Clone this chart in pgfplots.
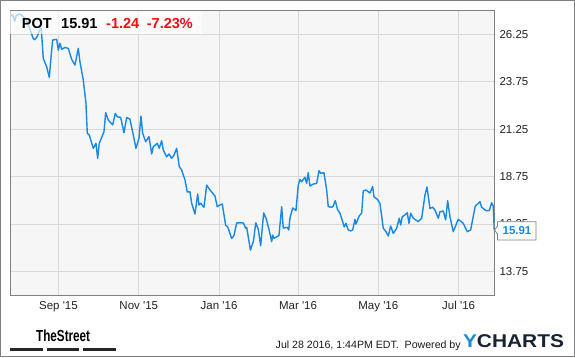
\documentclass[border=0pt]{standalone}
\usepackage{fontspec}
\setmainfont{Liberation Sans}
\usepackage{graphicx}
\usepackage{pgfplots}
\pgfplotsset{compat=1.18}
\definecolor{linec}{RGB}{22,136,230}
\definecolor{bgc}{RGB}{246,246,246}
\definecolor{gridc}{RGB}{216,216,216}
\definecolor{framec}{RGB}{128,128,128}
\definecolor{redc}{RGB}{238,16,16}
\definecolor{tickc}{RGB}{34,34,34}
\definecolor{ylogo}{RGB}{26,138,216}
\definecolor{navy}{RGB}{24,36,52}
\begin{document}
\begin{tikzpicture}
\path[use as bounding box] (0pt,0pt) rectangle (575pt,358pt);
\begin{axis}[
  at={(10.3pt,63pt)}, anchor=south west,
  width=484pt, height=284.7pt, scale only axis,
  xmin=-36.6, xmax=331.1, ymin=12.5, ymax=27.52,
  axis background/.style={fill=bgc},
  axis line style={draw=framec, line width=0.9pt},
  grid=major, major grid style={draw=gridc, line width=0.8pt},
  major tick length=0pt,
  xtick={0,61,122,182,243,304},
  xticklabels={Sep \textquotesingle15, Nov \textquotesingle15, Jan \textquotesingle16, Mar \textquotesingle16, May \textquotesingle16, Jul \textquotesingle16},
  ytick={13.75,16.25,18.75,21.25,23.75,26.25},
  yticklabels={13.75,16.25,18.75,21.25,23.75,26.25},
  yticklabel pos=right,
  tick label style={font=\fontsize{11.5}{13}\selectfont, text=tickc, inner sep=0pt},
  xticklabel style={anchor=base, yshift=-15pt},
  yticklabel style={anchor=west, xshift=5pt},
]
\addplot[linec, line width=1.4pt, line join=round] coordinates {
(-36.46,27.22) (-34.79,27.28) (-33.27,26.94) (-32.06,27.25) (-29.47,27.32) (-27.73,27.25)
(-24.46,27.02) (-21.88,26.58) (-19.37,26.05) (-18.08,25.97) (-16.10,26.14) (-14.28,26.49)
(-13.07,26.55) (-11.55,24.98) (-8.96,24.54) (-6.99,23.98) (-5.17,25.42) (-4.41,25.95)
(-1.37,25.99) (-0.15,25.42) (1.14,25.78) (2.43,25.46) (4.94,25.56) (7.44,25.51)
(10.03,24.93) (12.53,24.63) (15.04,25.51) (16.33,24.80) (18.84,23.84) (20.89,22.61)
(21.88,21.03) (23.40,20.94) (26.44,20.24) (28.49,20.50) (29.78,19.71) (30.99,20.50)
(34.56,21.11) (35.86,22.12) (37.83,21.73) (41.17,21.47) (43.15,22.08) (44.67,21.90)
(47.25,21.87) (49.76,21.06) (51.81,21.87) (54.32,21.77) (56.06,21.20) (58.87,20.24)
(61.15,20.77) (62.67,21.94) (63.96,21.03) (66.24,20.59) (68.75,20.85) (70.80,19.94)
(72.01,20.32) (75.05,20.50) (76.57,20.24) (78.40,20.64) (79.61,20.15) (82.19,19.79)
(83.94,19.94) (85.99,19.71) (87.74,19.88) (89.79,20.24) (91.77,19.27) (93.59,19.09)
(96.10,18.57) (97.84,17.93) (99.89,17.95) (101.19,17.34) (103.69,16.77) (105.74,17.83)
(106.73,17.25) (108.02,17.34) (110.53,17.13) (112.58,18.30) (114.56,18.09) (118.89,17.72)
(120.63,17.16) (122.68,17.25) (124.43,17.30) (127.01,16.17) (128.53,16.10) (131.57,15.48)
(133.32,15.64) (135.37,16.30) (137.88,16.31) (140.54,16.30) (142.21,16.02) (142.97,16.07)
(145.85,14.87) (148.13,15.35) (149.88,16.31) (151.78,15.97) (153.60,15.10) (155.88,16.83)
(157.86,16.51) (160.14,15.90) (161.96,15.31) (162.72,15.66) (163.71,15.49) (167.51,15.64)
(169.56,17.16) (170.77,16.03) (173.81,16.07) (174.95,15.93) (175.86,16.56) (177.91,17.09)
(180.42,16.96) (182.16,18.30) (183.46,18.59) (184.75,18.48) (187.25,18.71) (188.54,18.39)
(189.76,18.96) (191.05,18.25) (193.56,18.35) (196.14,18.39) (197.89,19.06) (199.18,18.92)
(201.69,18.95) (203.74,18.04) (204.95,17.16) (207.54,17.13) (208.75,17.19) (210.27,17.48)
(211.94,17.02) (213.84,16.81) (215.89,16.37) (217.11,16.09) (218.40,16.28) (220.15,15.93)
(221.97,15.88) (223.49,15.93) (225.24,16.49) (226.00,16.24) (228.50,16.68) (230.33,16.81)
(231.54,17.99) (233.59,18.04) (236.63,17.88) (238.68,18.22) (239.67,17.68) (242.18,17.55)
(244.23,17.34) (246.74,16.02) (248.79,15.84) (250.54,15.61) (252.36,16.14) (254.34,15.75)
(256.92,16.02) (258.89,16.55) (259.96,16.19) (261.17,16.63) (263.22,16.72) (264.97,16.84)
(266.26,16.28) (267.55,16.81) (269.53,16.55) (273.33,16.37) (275.91,16.55) (278.42,17.77)
(279.94,18.20) (282.22,17.07) (284.27,17.13) (286.02,16.98) (288.52,16.55) (289.81,16.89)
(292.32,16.93) (294.14,16.46) (295.66,17.47) (297.41,16.63) (299.91,15.84) (303.71,16.49)
(307.51,16.28) (310.55,15.84) (313.13,15.93) (316.62,17.19) (320.19,17.42) (321.49,17.13)
(324.75,16.95) (327.26,16.95) (329.08,17.37) (330.30,17.19) (331.06,15.91)
};
\end{axis}
% header box
\fill[white, opacity=0.65] (10.3pt,324pt) rectangle (201.7pt,347.2pt);
\node[anchor=base west, inner sep=0pt, font=\fontsize{14.5}{16}\selectfont\bfseries] at (21.7pt,329pt) {POT};
\node[anchor=base west, inner sep=0pt, font=\fontsize{14.5}{16}\selectfont\bfseries] at (61pt,329pt) {15.91};
\node[anchor=base west, inner sep=0pt, font=\fontsize{14.5}{16}\selectfont\bfseries, text=redc] at (106pt,329pt) {-1.24};
\node[anchor=base west, inner sep=0pt, font=\fontsize{14.5}{16}\selectfont\bfseries, text=redc] at (146.7pt,329pt) {-7.23\%};
% callout
\draw[framec, fill=white, line width=0.8pt] (494.6pt,128pt) -- (497.5pt,132pt) -- (497.5pt,136.3pt) -- (536pt,136.3pt) -- (536pt,118pt) -- (497.5pt,118pt) -- (497.5pt,123.8pt) -- cycle;
\node[font=\fontsize{11.5}{13}\selectfont\bfseries, text=linec, inner sep=0pt] at (517pt,127.2pt) {15.91};
% outer border
\draw[framec, line width=1.2pt] (0.8pt,1.2pt) rectangle (574.2pt,357.4pt);
% footer
\node[anchor=base west, inner sep=0pt] at (36pt,16pt) {\scalebox{0.73}[1]{\fontsize{16}{18}\selectfont\bfseries TheStreet}};
\fill[black!85] (10pt,7pt) rectangle (42.7pt,10.3pt);
\fill[black!85] (47pt,7pt) rectangle (79.3pt,10.3pt);
\fill[black!85] (83.3pt,7pt) rectangle (115.7pt,10.3pt);
\node[anchor=base west, inner sep=0pt, font=\fontsize{10.6}{12}\selectfont, text=black!90] at (275.5pt,9.3pt) {Jul 28 2016, 1:44PM EDT.\ \ Powered by};
\node[anchor=base west, inner sep=0pt] at (462.8pt,10pt) {\scalebox{1.13}[1]{\fontsize{18.5}{20}\selectfont\bfseries\textcolor{ylogo}{Y}\textcolor{navy}{CHARTS}}};
\end{tikzpicture}
\end{document}
